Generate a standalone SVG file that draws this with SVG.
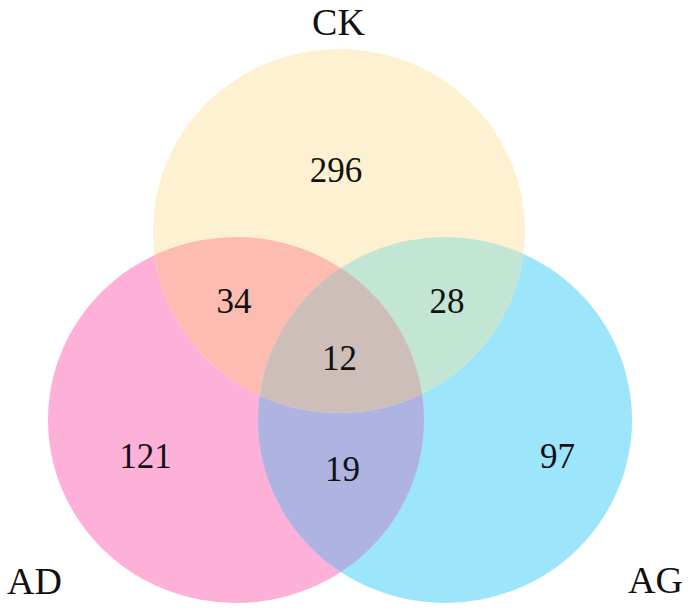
<svg xmlns="http://www.w3.org/2000/svg" width="690" height="611" viewBox="0 0 690 611">
<style>
text{font-family:"Liberation Serif","Times New Roman",serif;fill:#111;}
.num{font-size:35px;text-anchor:middle;}
.lab{font-size:38px;}
</style>
<defs>
<clipPath id="cCK"><ellipse cx="339" cy="231" rx="186" ry="182"/></clipPath>
<clipPath id="cAD"><ellipse cx="236" cy="420" rx="188" ry="183"/></clipPath>
</defs>
<rect width="690" height="611" fill="#ffffff"/>
<g id="AD"><ellipse cx="236" cy="420" rx="188" ry="183" fill="#fdb1d8"/></g>
<g id="AG"><ellipse cx="445" cy="420" rx="187" ry="183" fill="#9de5fa"/></g>
<g id="CK"><ellipse cx="339" cy="231" rx="186" ry="182" fill="#fef1d1"/></g>
<g id="overlaps">
<ellipse cx="445" cy="420" rx="187" ry="183" fill="#afb3e2" clip-path="url(#cAD)"/>
<ellipse cx="236" cy="420" rx="188" ry="183" fill="#fdbcb2" clip-path="url(#cCK)"/>
<ellipse cx="445" cy="420" rx="187" ry="183" fill="#c2e5d4" clip-path="url(#cCK)"/>
<g clip-path="url(#cCK)"><ellipse cx="445" cy="420" rx="187" ry="183" fill="#cdbeba" clip-path="url(#cAD)"/></g>
</g>
<g id="labels">
<text class="lab" x="338.5" y="35" text-anchor="middle">CK</text>
<text class="lab" x="7" y="594">AD</text>
<text class="lab" x="628" y="593">AG</text>
</g>
<g id="counts">
<text class="num" x="336" y="182">296</text>
<text class="num" x="234" y="313">34</text>
<text class="num" x="447" y="313">28</text>
<text class="num" x="339.5" y="370">12</text>
<text class="num" x="145.5" y="468">121</text>
<text class="num" x="342.5" y="481">19</text>
<text class="num" x="557.5" y="468">97</text>
</g>
</svg>
